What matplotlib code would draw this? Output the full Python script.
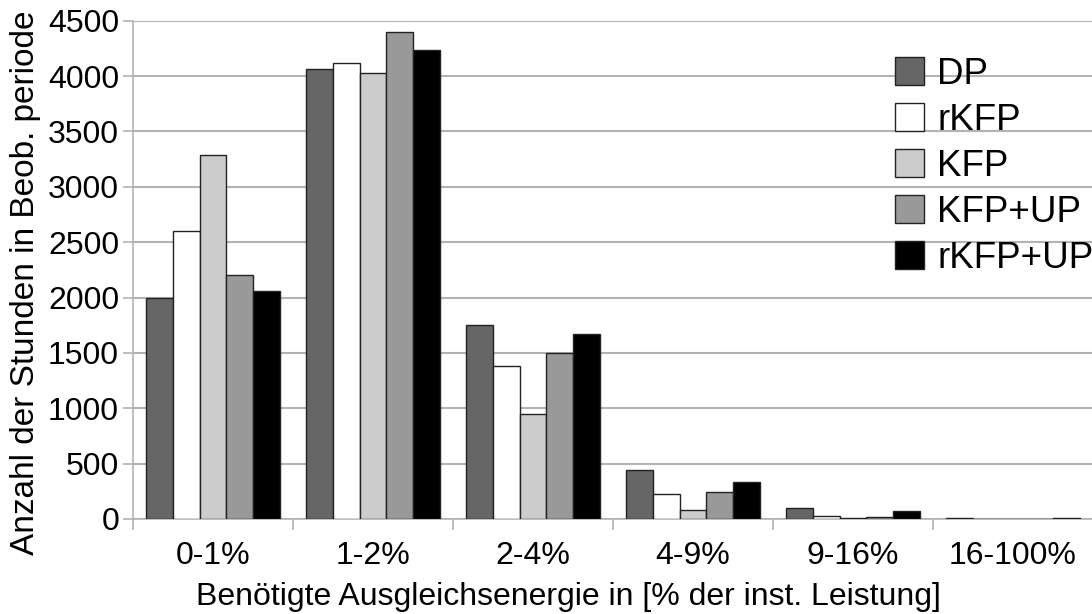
import numpy as np
import matplotlib
matplotlib.use("Agg")
import matplotlib.pyplot as plt

plt.rcParams['font.family'] = ['Liberation Sans', 'DejaVu Sans']

categories = ['0-1%', '1-2%', '2-4%', '4-9%', '9-16%', '16-100%']
series = ['DP', 'rKFP', 'KFP', 'KFP+UP', 'rKFP+UP']
dp = [2000, 4060, 1755, 445, 95, 10]
rkfp = [2600, 4120, 1385, 228, 25, 0]
kfp = [3290, 4030, 948, 85, 8, 0]
kfp_up = [2200, 4400, 1500, 242, 18, 0]
rkfp_up = [2060, 4235, 1670, 337, 70, 10]
values = [dp, rkfp, kfp, kfp_up, rkfp_up]
colors = ['#666666', '#ffffff', '#cccccc', '#999999', '#000000']

fig = plt.figure(figsize=(10.92, 6.14), dpi=100)
ax = fig.add_axes([133 / 1092, 1 - 519 / 614, 960 / 1092, (519 - 20.7) / 614])

x = np.arange(len(categories))
w = 1 / 6
for i, (name, vals) in enumerate(zip(series, values)):
    ax.bar(x - 2 * w + i * w, vals, width=w, color=colors[i],
           edgecolor='#222222', linewidth=1.0, label=name, zorder=3)

ax.set_xlim(-0.5, len(categories) - 0.5)
ax.set_ylim(0, 4500)
ax.set_yticks(np.arange(0, 4501, 500))
ax.yaxis.grid(True, color='#b3b3b3', linewidth=1.5, zorder=0)

ax.set_xticks(x)
ax.set_xticklabels(categories)
ax.set_xticks(np.arange(-0.5, len(categories) - 0.4, 1), minor=True)
ax.tick_params(axis='x', which='major', length=0, pad=16, labelsize=23)
ax.tick_params(axis='x', which='minor', length=8, width=1.2, color='#b3b3b3')
ax.tick_params(axis='y', length=7, width=1.2, color='#b3b3b3', pad=3, labelsize=23)

for side in ['top', 'right']:
    ax.spines[side].set_visible(False)
ax.spines['left'].set_color('#b3b3b3')
ax.spines['left'].set_linewidth(1.2)
ax.spines['bottom'].set_color('#b3b3b3')
ax.spines['bottom'].set_linewidth(1.2)

ax.set_xlabel('Benötigte Ausgleichsenergie in [% der inst. Leistung]', fontsize=23)
ax.xaxis.set_label_coords((568 - 133) / 960, -78 / 498.3)
ax.xaxis.label.set_va('center')
fig.text(26 / 1092, 1 - 283 / 614, 'Anzahl der Stunden in Beob. periode',
         rotation=90, ha='center', va='center', fontsize=24)

ax.legend(loc='upper left', bbox_to_anchor=(895 / 1092, 1 - 57 / 614),
          bbox_transform=fig.transFigure, frameon=False, fontsize=26.5,
          handlelength=0.8, handleheight=0.8, handletextpad=0.35,
          labelspacing=0.3, borderaxespad=0, borderpad=0)

fig.savefig('out.png', dpi=100)
